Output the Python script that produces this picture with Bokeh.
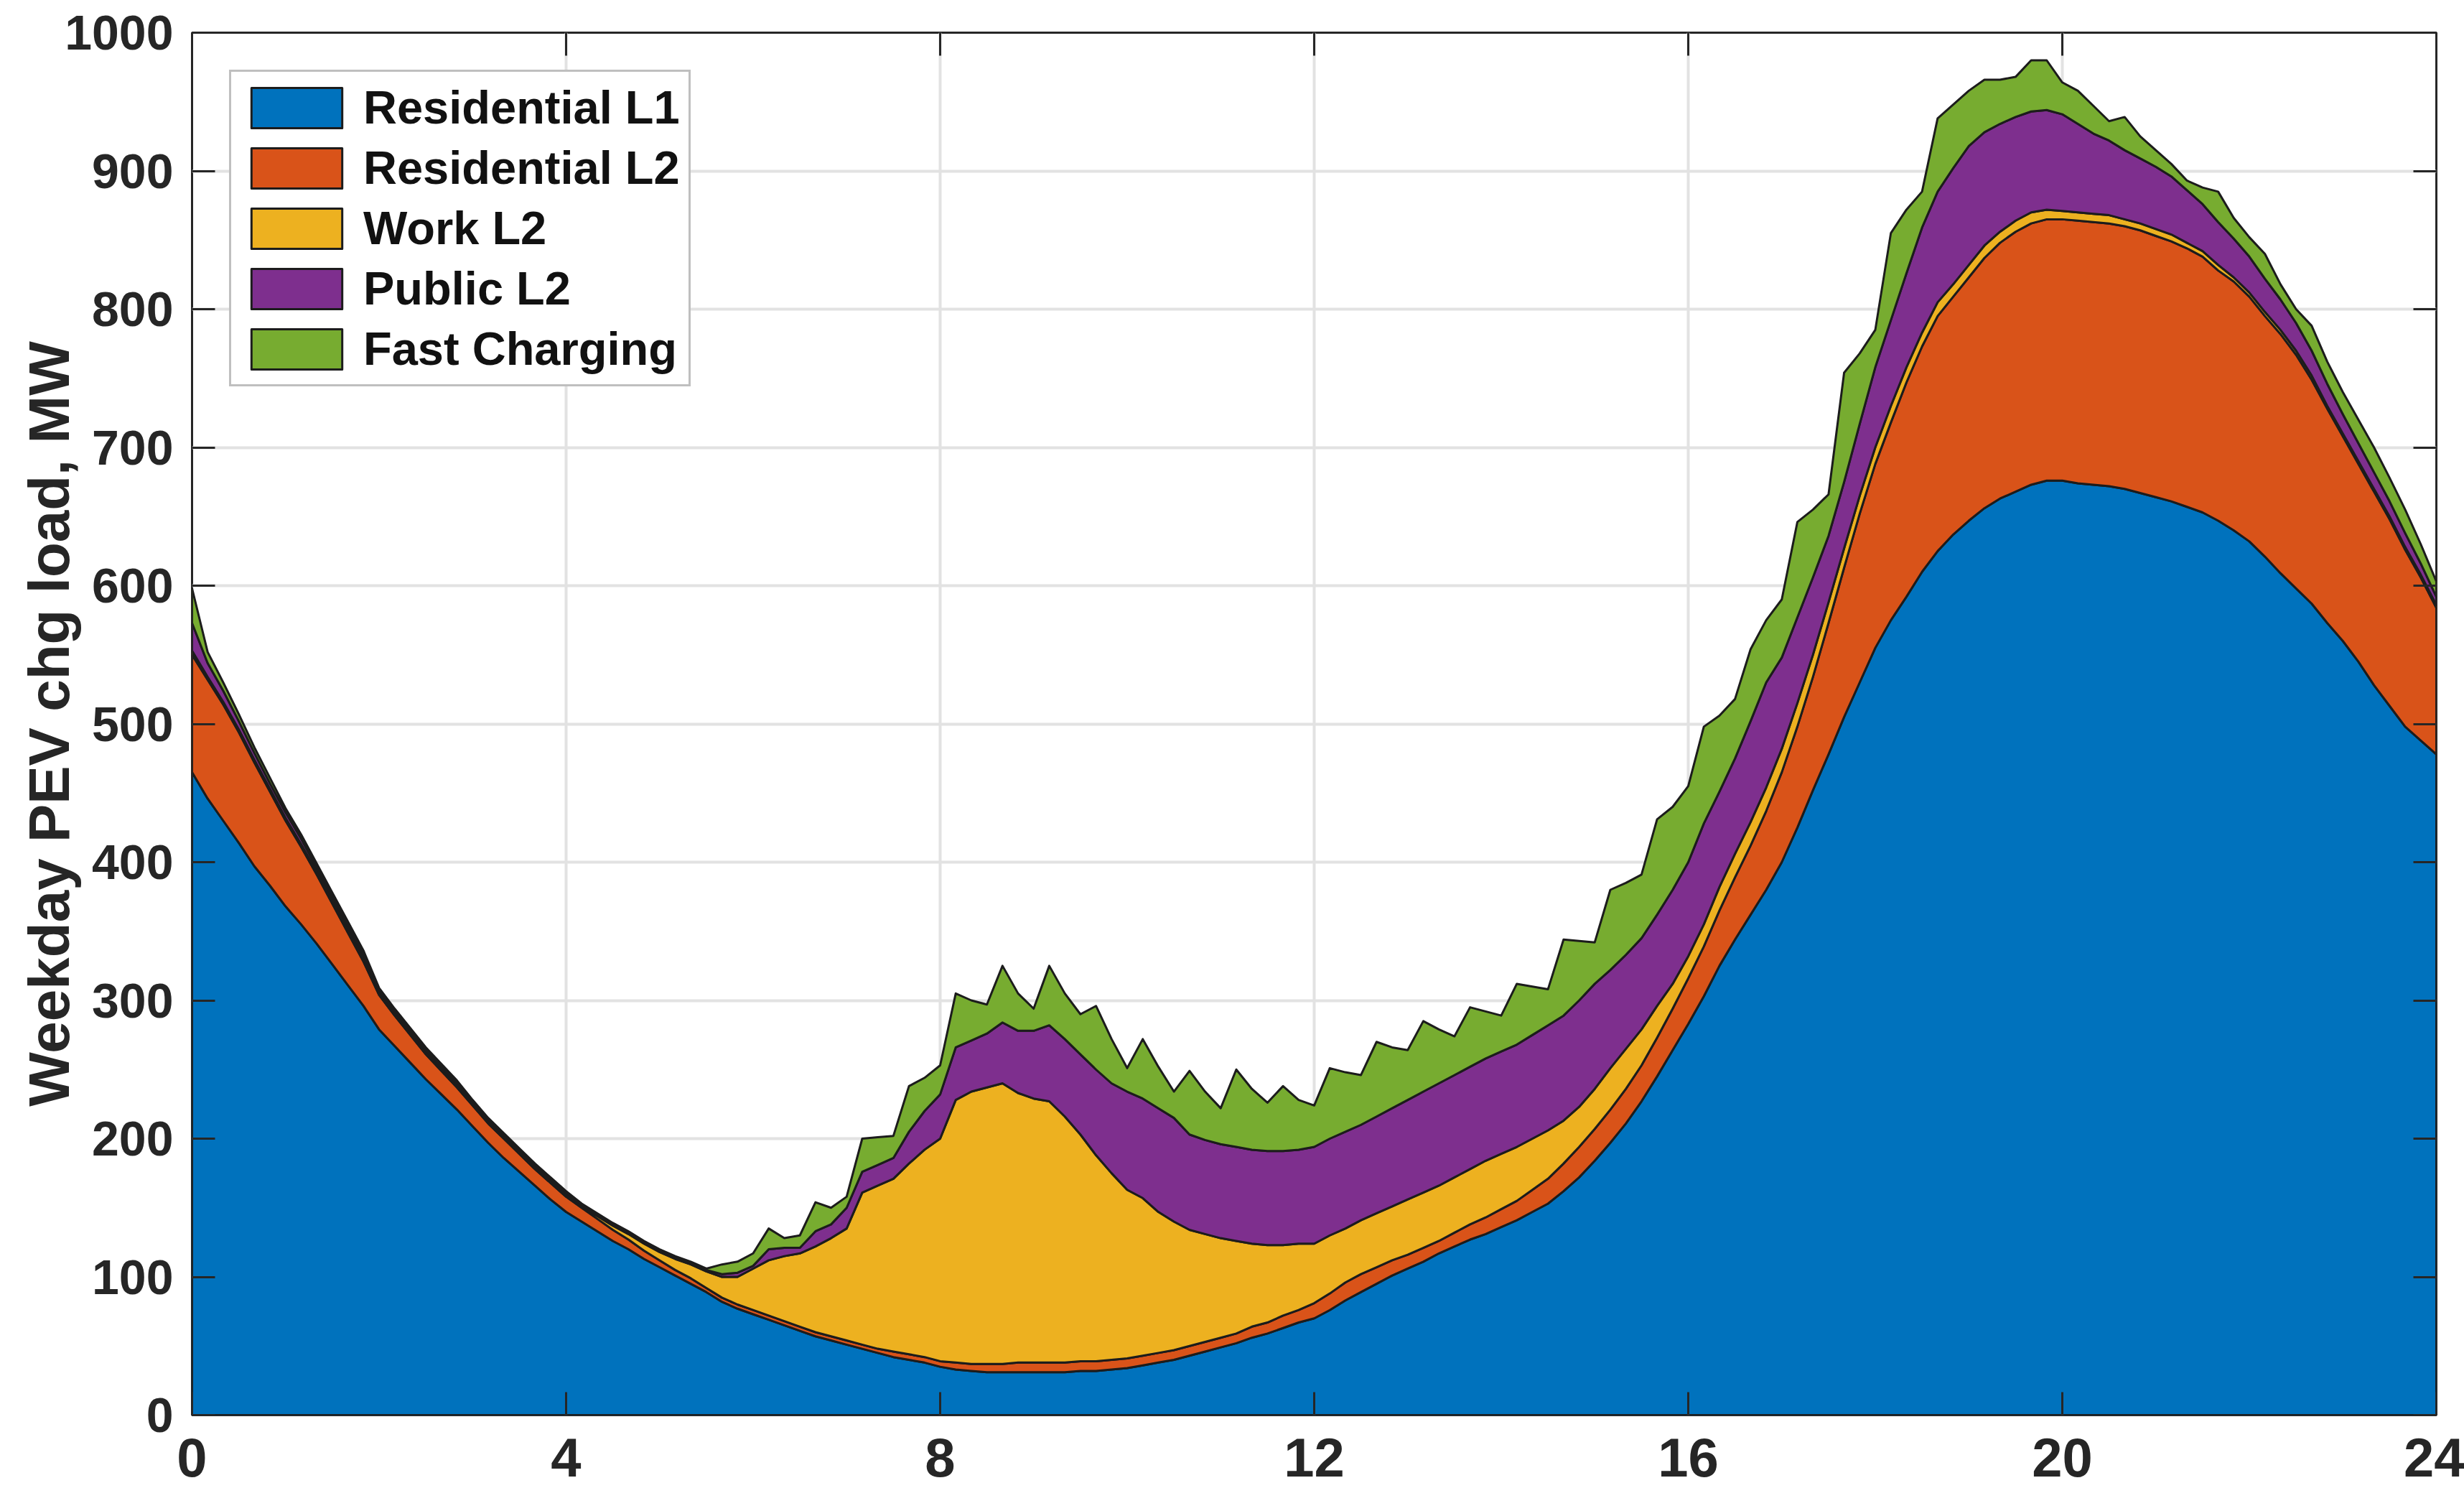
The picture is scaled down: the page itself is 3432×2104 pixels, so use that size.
import numpy as np
from bokeh.plotting import figure
from bokeh.models import Legend, LegendItem, LinearAxis, FixedTicker, Range1d
from bokeh.embed import file_html
from bokeh.resources import INLINE

# Weekday PEV charging load by charger type, 10-minute resolution (MW)
hours = [i / 6 for i in range(145)]

residential_l1 = [
    465, 446, 430, 414, 397, 383,
    368, 355, 341, 326, 311, 296,
    279, 267, 255, 243, 232, 221,
    209, 197, 186, 176, 166, 156,
    147, 140, 133, 126, 120, 113,
    107, 101, 95, 89, 82, 77,
    73, 69, 65, 61, 57, 54,
    51, 48, 45, 42, 40, 38,
    35, 33, 32, 31, 31, 31,
    31, 31, 31, 32, 32, 33,
    34, 36, 38, 40, 43, 46,
    49, 52, 56, 59, 63, 67,
    70, 76, 83, 89, 95, 101,
    106, 111, 117, 122, 127, 131,
    136, 141, 147, 153, 162, 172,
    184, 197, 211, 227, 245, 264,
    283, 303, 325, 344, 362, 380,
    400, 425, 452, 478, 505, 530,
    555, 575, 592, 610, 625, 637,
    647, 656, 663, 668, 673, 676,
    676, 674, 673, 672, 670, 667,
    664, 661, 657, 653, 647, 640,
    632, 621, 609, 598, 587, 573,
    560, 545, 528, 513, 498, 488,
    478]

residential_l2 = [
    85, 86, 84, 80, 75, 68,
    62, 56, 50, 44, 38, 32,
    25, 22, 20, 18, 17, 16,
    15, 14, 14, 13, 12, 12,
    11, 10, 9, 8, 7, 6,
    5, 4, 4, 3, 3, 3,
    3, 3, 3, 3, 3, 3,
    3, 3, 3, 4, 4, 4,
    4, 5, 5, 6, 6, 7,
    7, 7, 7, 7, 7, 7,
    7, 7, 7, 7, 7, 7,
    7, 7, 8, 8, 9, 9,
    11, 12, 13, 13, 12, 11,
    10, 10, 9, 10, 11, 12,
    13, 14, 16, 18, 20, 22,
    23, 24, 25, 26, 28, 30,
    33, 36, 40, 45, 50, 57,
    65, 73, 82, 95, 108, 122,
    133, 143, 155, 163, 170, 172,
    176, 181, 185, 188, 189, 189,
    189, 190, 190, 190, 190, 190,
    189, 188, 187, 185, 181, 180,
    177, 174, 173, 169, 162, 155,
    148, 143, 140, 135, 128, 118,
    106]

work_l2 = [
    3, 2, 2, 2, 2, 2,
    2, 2, 2, 2, 2, 2,
    1, 1, 1, 1, 1, 1,
    1, 1, 1, 1, 1, 1,
    1, 1, 2, 3, 4, 5,
    6, 8, 10, 12, 15, 20,
    30, 40, 47, 53, 62, 71,
    81, 110, 118, 125, 138, 150,
    161, 190, 197, 200, 203, 195,
    191, 189, 178, 164, 149, 135,
    122, 114, 102, 93, 84, 78,
    72, 67, 60, 56, 51, 48,
    43, 42, 39, 39, 39, 39,
    40, 40, 40, 40, 40, 41,
    40, 39, 37, 35, 31, 29,
    29, 30, 29, 26, 23, 18,
    16, 16, 17, 17, 17, 17,
    17, 17, 16, 15, 14, 13,
    12, 12, 11, 10, 10, 9,
    9, 9, 8, 8, 8, 7,
    6, 6, 6, 6, 5, 5,
    5, 5, 4, 4, 4, 3,
    3, 3, 3, 3, 3, 2,
    2, 2, 2, 2, 2, 2,
    2]

public_l2 = [
    20, 10, 8, 6, 5, 4,
    4, 4, 3, 3, 3, 3,
    2, 2, 2, 2, 2, 2,
    2, 2, 2, 2, 2, 2,
    2, 1, 1, 1, 1, 1,
    1, 1, 1, 1, 2, 3,
    2, 8, 6, 4, 11, 10,
    15, 15, 15, 15, 23, 28,
    32, 38, 37, 39, 44, 45,
    49, 55, 56, 58, 62, 65,
    71, 72, 75, 75, 69, 68,
    68, 68, 68, 68, 68, 68,
    70, 70, 70, 69, 70, 71,
    72, 73, 74, 74, 74, 74,
    74, 74, 75, 76, 76, 77,
    76, 71, 68, 66, 66, 68,
    68, 73, 69, 69, 73, 76,
    66, 62, 56, 48, 48, 52,
    58, 62, 68, 76, 80, 84,
    86, 82, 78, 75, 73, 72,
    70, 64, 58, 54, 50, 47,
    45, 42, 38, 34, 31, 28,
    26, 24, 22, 20, 18, 16,
    14, 13, 12, 11, 10, 8,
    6]

fast_charging = [
    25, 8, 6, 5, 4, 4,
    3, 3, 3, 3, 3, 3,
    2, 2, 2, 2, 2, 2,
    1, 1, 1, 1, 1, 1,
    1, 1, 1, 1, 1, 1,
    1, 1, 1, 1, 7, 8,
    9, 15, 7, 9, 21, 12,
    8, 24, 20, 16, 33, 24,
    21, 39, 29, 21, 41, 27,
    16, 43, 33, 29, 46, 32,
    17, 43, 30, 19, 46, 35,
    26, 56, 44, 35, 47, 36,
    30, 51, 43, 36, 54, 44,
    36, 51, 39, 28, 43, 34,
    26, 44, 35, 26, 55, 43,
    30, 58, 52, 46, 69, 60,
    55, 70, 55, 43, 52, 45,
    42, 69, 49, 30, 79, 51,
    27, 63, 46, 26, 53, 46,
    40, 38, 32, 29, 37, 36,
    23, 24, 20, 14, 24, 16,
    12, 9, 7, 12, 22, 15,
    14, 18, 11, 10, 18, 16,
    16, 17, 18, 17, 17, 14,
    11]

labels = ["Residential L1", "Residential L2", "Work L2", "Public L2", "Fast Charging"]
colors = ["#0072BD", "#D95319", "#EDB120", "#7E2F8E", "#77AC30"]
layers = [residential_l1, residential_l2, work_l2, public_l2, fast_charging]

x_ticks = [0, 4, 8, 12, 16, 20, 24]
y_ticks = [0, 100, 200, 300, 400, 500, 600, 700, 800, 900, 1000]

FONT = "Liberation Sans"
INK = "#262626"

p = figure(width=3432, height=2104,
           x_range=Range1d(0, 24), y_range=Range1d(0, 1000),
           output_backend="svg", toolbar_location=None,
           min_border_left=267, min_border_right=39,
           min_border_top=45, min_border_bottom=134)
p.background_fill_color = "white"
p.border_fill_color = "white"
p.outline_line_color = INK
p.outline_line_width = 3

# grid
p.xgrid.ticker = FixedTicker(ticks=x_ticks)
p.ygrid.ticker = FixedTicker(ticks=y_ticks)
for g in (p.xgrid, p.ygrid):
    g.grid_line_color = "#e2e2e2"
    g.grid_line_width = 4

# stacked areas, each outlined like a filled patch
x = np.array(hours, dtype=float)
bottom = np.zeros_like(x)
renderers = []
for name, vals, col in zip(labels, layers, colors):
    top = bottom + np.array(vals, dtype=float)
    xs = np.concatenate([x, x[::-1]])
    ys = np.concatenate([top, bottom[::-1]])
    r = p.patch(xs, ys, fill_color=col, line_color="#1c1c1c",
                line_width=3, line_join="round")
    renderers.append((name, r))
    bottom = top

def style_axis(ax, ticks, size, show_labels=True):
    ax.ticker = FixedTicker(ticks=ticks)
    ax.axis_line_color = None
    ax.major_tick_line_color = INK
    ax.major_tick_line_width = 3
    ax.major_tick_in = 32
    ax.major_tick_out = 0
    ax.minor_tick_line_color = None
    ax.major_label_text_font = FONT
    ax.major_label_text_font_style = "bold"
    ax.major_label_text_color = INK
    ax.major_label_text_font_size = size
    if not show_labels:
        ax.major_label_text_alpha = 0
        ax.major_label_text_font_size = "1px"
        ax.major_label_standoff = 0

style_axis(p.xaxis[0], x_ticks, "76px")
p.xaxis[0].major_label_standoff = 32
style_axis(p.yaxis[0], y_ticks, "68px")
p.yaxis[0].major_label_standoff = 26
p.yaxis[0].axis_label = "Weekday PEV chg load, MW"
p.yaxis[0].axis_label_text_font = FONT
p.yaxis[0].axis_label_text_font_style = "bold"
p.yaxis[0].axis_label_text_font_size = "80px"
p.yaxis[0].axis_label_text_color = INK
p.yaxis[0].axis_label_standoff = -26

top_ax = LinearAxis()
style_axis(top_ax, x_ticks, "1px", show_labels=False)
p.add_layout(top_ax, "above")
right_ax = LinearAxis()
style_axis(right_ax, y_ticks, "1px", show_labels=False)
p.add_layout(right_ax, "right")

legend = Legend(items=[LegendItem(label=n, renderers=[r]) for n, r in renderers],
                location="top_left")
legend.margin = 52
legend.padding = 12
legend.spacing = 9
legend.glyph_width = 158
legend.glyph_height = 70
legend.label_height = 70
legend.label_standoff = 14
legend.label_text_font = FONT
legend.label_text_font_style = "bold"
legend.label_text_font_size = "65px"
legend.label_text_color = "#111111"
legend.border_line_color = "#7f7f7f"
legend.border_line_width = 3
legend.background_fill_color = "white"
legend.background_fill_alpha = 1
p.add_layout(legend)

open("out.html", "w").write(file_html(p, INLINE))
